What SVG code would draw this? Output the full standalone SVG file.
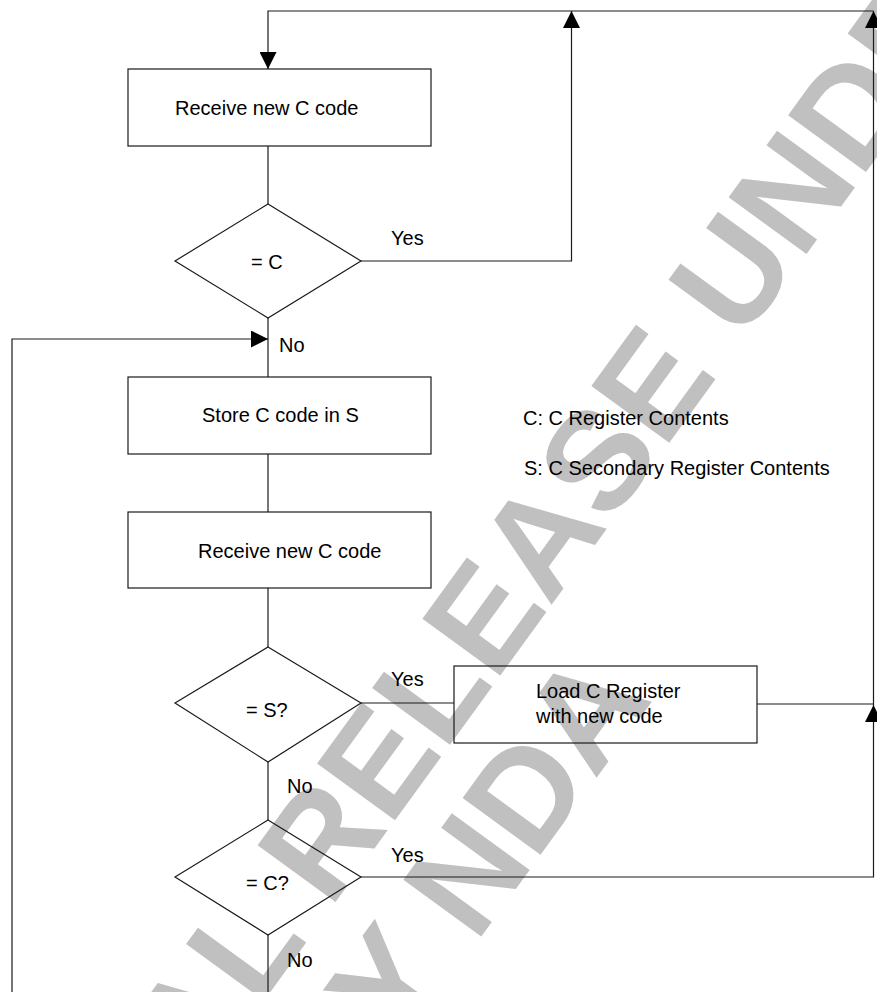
<svg xmlns="http://www.w3.org/2000/svg" width="877" height="992" viewBox="0 0 877 992">
<style>
  .shape { fill: none; stroke: #1a1a1a; stroke-width: 1.2; }
  .conn { fill: none; stroke: #1a1a1a; stroke-width: 1.2; }
  .lbl { font-family: "Liberation Sans", Arial, sans-serif; font-size: 20px; fill: #000; }
  .wm { font-family: "Liberation Sans", Arial, sans-serif; font-weight: bold; font-size: 140px; fill: #c0c0c0; }
</style>
<defs>
  <marker id="arrow" markerUnits="userSpaceOnUse" markerWidth="17" markerHeight="17" viewBox="0 0 17 17" refX="17" refY="8.5" orient="auto">
    <path d="M0,0 L17,8.5 L0,17 z" fill="#000"/>
  </marker>
</defs>
<rect width="877" height="992" fill="#fff"/>
<g id="watermark" transform="translate(199,1090) rotate(-54)">
  <text class="wm" x="0" y="0">AL RELEASE UNDE</text>
  <text class="wm" x="584" y="138" text-anchor="end">Y NDA</text>
</g>
<g id="connectors">
  <path class="conn" d="M268,146 V204"/>
  <path class="conn" d="M268,318 V377"/>
  <path class="conn" d="M268,454 V512"/>
  <path class="conn" d="M268,588 V647"/>
  <path class="conn" d="M268,762 V820"/>
  <path class="conn" d="M268,935 V992"/>
  <path class="conn" d="M873.5,11 H268 V69" marker-end="url(#arrow)"/>
  <path class="conn" d="M361,261 H571.5 V11" marker-end="url(#arrow)"/>
  <path class="conn" d="M12,992 V339 H268" marker-end="url(#arrow)"/>
  <path class="conn" d="M361,703 H454"/>
  <path class="conn" d="M757,704 H873.5"/>
  <path class="conn" d="M361,877 H873.5 V705" marker-end="url(#arrow)"/>
  <path class="conn" d="M873.5,705 V11" marker-end="url(#arrow)"/>
  <text class="lbl" x="391" y="245">Yes</text>
  <text class="lbl" x="279" y="352">No</text>
  <text class="lbl" x="391" y="686">Yes</text>
  <text class="lbl" x="287" y="793">No</text>
  <text class="lbl" x="391" y="862">Yes</text>
  <text class="lbl" x="287" y="967">No</text>
</g>
<g id="box1">
  <rect class="shape" x="128" y="69" width="303" height="77"/>
  <text class="lbl" x="175" y="115">Receive new C code</text>
</g>
<g id="dec1">
  <polygon class="shape" points="268,204 361,261 268,318 175,261"/>
  <text class="lbl" x="251" y="269">= C</text>
</g>
<g id="box2">
  <rect class="shape" x="128" y="377" width="303" height="77"/>
  <text class="lbl" x="202" y="422">Store C code in S</text>
</g>
<g id="legend">
  <text class="lbl" x="523" y="425">C: C Register Contents</text>
  <text class="lbl" x="524" y="475">S: C Secondary Register Contents</text>
</g>
<g id="box3">
  <rect class="shape" x="128" y="512" width="303" height="76"/>
  <text class="lbl" x="198" y="558">Receive new C code</text>
</g>
<g id="dec2">
  <polygon class="shape" points="268,647 361,703 268,762 175,703"/>
  <text class="lbl" x="246" y="717">= S?</text>
</g>
<g id="box4">
  <rect class="shape" x="454" y="666" width="303" height="77"/>
  <text class="lbl" x="536" y="698">Load C Register</text>
  <text class="lbl" x="536" y="723">with new code</text>
</g>
<g id="dec3">
  <polygon class="shape" points="268,820 361,877 268,935 175,877"/>
  <text class="lbl" x="246" y="890">= C?</text>
</g>
</svg>
